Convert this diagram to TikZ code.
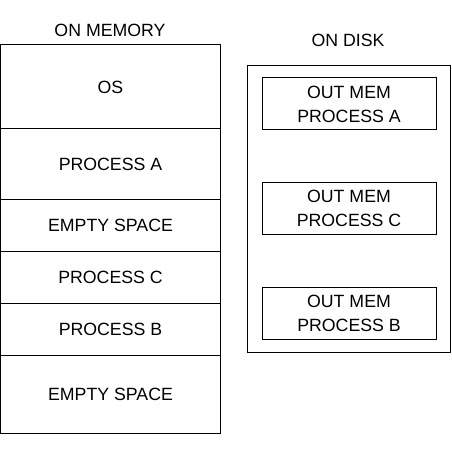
\documentclass[tikz,border=0pt]{standalone}
\usepackage{fontspec}
\setmainfont{Liberation Sans}
\usetikzlibrary{positioning}
\tikzset{
  cell/.style={draw, line width=0.75pt, outer sep=0pt, minimum width=165pt, inner sep=0pt},
  diskbox/.style={draw, line width=0.75pt, minimum width=130.5pt, minimum height=39pt, inner sep=0pt, align=center},
  caption/.style={inner sep=0pt}
}
\begin{document}
\begin{tikzpicture}[x=0.75pt,y=-0.75pt,font=\fontsize{13.3}{18}\selectfont]
                \useasboundingbox (0,0) rectangle (452,456);
                % memory column
                \node[cell, minimum height=63pt, anchor=north west] (os) at (0.5,45) {OS};
                \node[cell, minimum height=52.5pt, below=0pt of os] (procA) {PROCESS A};
                \node[cell, minimum height=39pt, below=0pt of procA] (emptyA) {EMPTY SPACE};
                \node[cell, minimum height=39pt, below=0pt of emptyA] (procC) {PROCESS C};
                \node[cell, minimum height=39pt, below=0pt of procC] (procB) {PROCESS B};
                \node[cell, minimum height=58.5pt, below=0pt of procB] (emptyB) {EMPTY SPACE};
                \node[caption] (memlabel) at (110,30) {ON MEMORY};
                % disk
                \draw[line width=0.75pt] (247,66) rectangle (450,352);
                \node[caption] (disklabel) at (348,40) {ON DISK};
                \node[diskbox] (outA) at (349,104) {OUT MEM\\PROCESS A};
                \node[diskbox] (outC) at (349,208.5) {OUT MEM\\PROCESS C};
                \node[diskbox] (outB) at (349,313) {OUT MEM\\PROCESS B};
            \end{tikzpicture}
\end{document}
